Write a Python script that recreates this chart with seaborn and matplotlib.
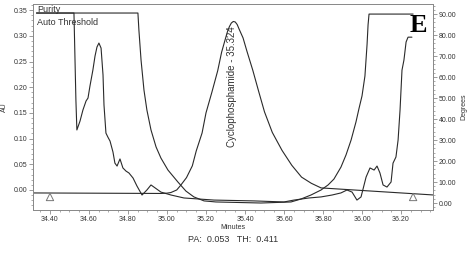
import numpy as np
import pandas as pd
import matplotlib
matplotlib.use("Agg")
import matplotlib.pyplot as plt
from matplotlib.ticker import MultipleLocator, FormatStrFormatter
import seaborn as sns

# ---- data ----
# chromatogram (AU)
chrom_t = [34.313, 34.97, 35.00, 35.02, 35.05, 35.07, 35.10, 35.13, 35.15, 35.18, 35.20, 35.23,
           35.26, 35.28, 35.30, 35.31, 35.32, 35.33, 35.34, 35.35, 35.36, 35.37, 35.39, 35.41,
           35.44, 35.47, 35.50, 35.54, 35.59, 35.64, 35.69, 35.74, 35.79, 36.364]
chrom_au = [-0.0058, -0.0068, -0.0062, -0.0050, 0.0000, 0.0090, 0.0240, 0.0470, 0.0760, 0.1110,
            0.1500, 0.1900, 0.2320, 0.2680, 0.2950, 0.3080, 0.3180, 0.3250, 0.3280, 0.3270,
            0.3220, 0.3130, 0.2960, 0.2700, 0.2330, 0.1920, 0.1520, 0.1120, 0.0770, 0.0480,
            0.0250, 0.0130, 0.0040, -0.0097]

# purity angle (degrees)
pur_t = [34.331, 34.523, 34.533, 34.538, 34.554, 34.569, 34.585, 34.595, 34.605, 34.620, 34.631,
         34.641, 34.651, 34.662, 34.672, 34.677, 34.687, 34.697, 34.708, 34.723, 34.733, 34.744,
         34.759, 34.774, 34.790, 34.805, 34.826, 34.846, 34.872, 34.897, 34.918, 34.969, 35.021,
         35.087, 35.241, 35.446, 35.600, 35.651, 35.728, 35.790, 35.846, 35.892, 35.923, 35.949,
         35.974, 35.995, 36.021, 36.041, 36.062, 36.077, 36.092, 36.108, 36.128, 36.149, 36.159,
         36.174, 36.185, 36.195, 36.205, 36.215, 36.226, 36.236, 36.246, 36.256]
pur_deg = [90.5, 90.5, 49.0, 34.8, 39.0, 44.3, 48.6, 50.0, 55.7, 63.3, 70.0, 74.3, 76.2, 73.8,
           61.0, 46.7, 33.3, 31.4, 29.5, 24.3, 19.0, 17.6, 21.0, 16.7, 15.2, 14.3, 11.9, 8.1, 3.8,
           6.2, 8.6, 5.2, 3.8, 2.4, 1.4, 1.0, 0.5, 1.4, 2.4, 2.9, 3.8, 4.8, 6.2, 5.2, 1.4, 2.9,
           12.4, 16.7, 15.7, 17.6, 14.3, 8.6, 7.6, 10.0, 19.0, 21.9, 30.0, 44.3, 63.3, 68.1, 76.7,
           79.0, 79.0, 79.0]

# auto threshold (degrees)
thr_t = [34.331, 34.851, 34.856, 34.867, 34.882, 34.897, 34.918, 34.944, 34.969, 35.005, 35.056,
         35.097, 35.138, 35.190, 35.251, 35.482, 35.636, 35.687, 35.738, 35.790, 35.826, 35.856,
         35.892, 35.918, 35.944, 35.969, 35.985, 36.000, 36.015, 36.026, 36.031, 36.036, 36.262]
thr_deg = [90.5, 90.5, 82.4, 68.1, 53.8, 44.3, 34.8, 26.7, 21.4, 15.7, 10.0, 5.7, 2.9, 1.0, 0.5,
           0.0, 0.5, 1.9, 3.8, 6.2, 8.6, 11.4, 17.1, 22.9, 30.0, 38.6, 45.2, 51.0, 60.5, 75.7, 84.8,
           90.0, 90.0]

marker_t = [34.40, 36.262]
marker_au = [-0.0136, -0.0136]

# ---- figure ----
sns.set_theme(style="white")
plt.rcParams['font.family'] = ['Liberation Sans', 'DejaVu Sans']

W, H = 467, 267
fig = plt.figure(figsize=(W / 100, H / 100), dpi=100)
ax = fig.add_axes([33 / W, (H - 210) / H, 400 / W, 206 / H])
ax2 = ax.twinx()

line_col = "#2a2a2a"
spine_col = "#8a8a8a"
text_col = "#333333"

df_c = pd.DataFrame({"t": chrom_t, "v": chrom_au})
df_p = pd.DataFrame({"t": pur_t, "v": pur_deg})
df_th = pd.DataFrame({"t": thr_t, "v": thr_deg})

sns.lineplot(data=df_c, x="t", y="v", ax=ax, color=line_col, lw=0.8, sort=False, estimator=None)
sns.lineplot(data=df_p, x="t", y="v", ax=ax2, color=line_col, lw=0.8, sort=False, estimator=None)
sns.lineplot(data=df_th, x="t", y="v", ax=ax2, color=line_col, lw=0.8, sort=False, estimator=None)
sns.scatterplot(x=marker_t, y=marker_au, ax=ax, marker="^", s=28, facecolor="none",
                edgecolor="#777777", linewidth=0.7, zorder=5)

ax.set_xlim(34.313, 36.364)
ax.set_ylim(-0.039, 0.362)
ax2.set_ylim(-3.33, 94.8)

ax.xaxis.set_major_locator(MultipleLocator(0.2))
ax.xaxis.set_minor_locator(MultipleLocator(0.05))
ax.xaxis.set_major_formatter(FormatStrFormatter('%.2f'))
ax.yaxis.set_major_locator(MultipleLocator(0.05))
ax.yaxis.set_minor_locator(MultipleLocator(0.01))
ax.yaxis.set_major_formatter(FormatStrFormatter('%.2f'))
ax2.yaxis.set_major_locator(MultipleLocator(10))
ax2.yaxis.set_minor_locator(MultipleLocator(2))
ax2.yaxis.set_major_formatter(FormatStrFormatter('%.2f'))

for a in (ax, ax2):
    for s in a.spines.values():
        s.set_color(spine_col)
        s.set_linewidth(0.7)
    a.tick_params(which="major", length=3, width=0.6, color=spine_col, labelsize=5,
                  labelcolor=text_col, pad=1)
    a.tick_params(which="minor", length=1.5, width=0.5, color=spine_col)
    a.grid(False)

ax.tick_params(axis="x", which="both", bottom=True)
ax.tick_params(axis="y", which="both", left=True)
ax2.tick_params(axis="y", which="both", right=True)

ax.set_xlabel("Minutes", fontsize=5, color=text_col, labelpad=1)
ax.set_ylabel("AU", fontsize=5, color=text_col, labelpad=4)
ax2.set_ylabel("Degrees", fontsize=5, color=text_col, labelpad=3)

ax.text(0.01, 0.995, "Purity", transform=ax.transAxes, fontsize=6.5, color=text_col,
        va="top", ha="left")
ax.text(0.01, 0.93, "Auto Threshold", transform=ax.transAxes, fontsize=6.5, color=text_col,
        va="top", ha="left")
ax.text(35.333, 0.318, "Cyclophosphamide - 35.324", rotation=90, fontsize=7,
        color=text_col, ha="center", va="top")

fig.text(418 / W, 1 - 25 / H, "E", fontsize=19, fontweight="bold",
         family=["Liberation Serif", "DejaVu Serif"], color="black", ha="center", va="center")
fig.text(233 / W, 1 - 240 / H, "PA:  0.053   TH:  0.411", fontsize=6.5, color=text_col,
         ha="center", va="center")

fig.savefig("out.png", dpi=100)
